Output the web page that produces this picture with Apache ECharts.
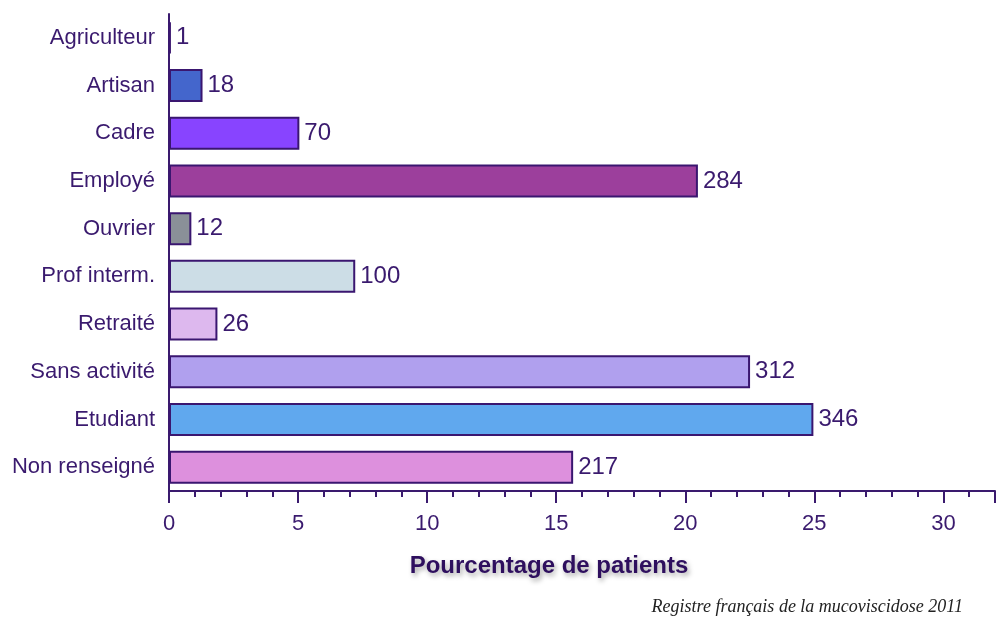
<!DOCTYPE html>
<html>
<head>
<meta charset="utf-8">
<script src="https://cdn.jsdelivr.net/npm/echarts@6/dist/echarts.min.js"></script>
<style>html,body{margin:0;padding:0;background:#fff;}#c{width:999px;height:619px;}</style>
</head>
<body>
<div id="c"></div>
<script>
const categories = ["Agriculteur","Artisan","Cadre","Employé","Ouvrier","Prof interm.","Retraité","Sans activité","Etudiant","Non renseigné"];
const counts = [1,18,70,284,12,100,26,312,346,217];
const barColors = ["#4a1a80","#4466cc","#8844ff","#9c3f9c","#8a9098","#ccdde6","#ddb8ee","#b0a0ee","#60a8ee","#dd90dd"];
const xTickLabels = [0,5,10,15,20,25,30];

const total = counts.reduce((a,b)=>a+b,0);
const percents = counts.map(c => c / total * 100);
const ink = "#3a1a6e";

const chart = echarts.init(document.getElementById('c'));
chart.setOption({
  animation: false,
  backgroundColor: '#fff',
  grid: {left: 169, right: 4, top: 14, bottom: 128, containLabel: false},
  xAxis: [{
    type: 'value', min: 0, max: 32, interval: 5,
    axisLine: {show: true, lineStyle: {color: ink, width: 2}},
    axisTick: {show: true, length: 12, lineStyle: {color: ink, width: 2}},
    splitLine: {show: false},
    axisLabel: {color: ink, fontFamily: 'Liberation Sans', fontSize: 22, margin: 22,
      formatter: v => xTickLabels.includes(v) ? String(v) : ''}
  },{
    type: 'value', min: 0, max: 32, interval: 1, position: 'bottom',
    axisLine: {show: false},
    axisTick: {show: true, length: 6, lineStyle: {color: ink, width: 2}},
    splitLine: {show: false},
    axisLabel: {show: false}
  }],
  yAxis: {
    type: 'category', data: categories, inverse: true,
    axisLine: {show: true, lineStyle: {color: ink, width: 2}},
    axisTick: {show: false},
    axisLabel: {color: ink, fontFamily: 'Liberation Sans', fontSize: 22, margin: 14}
  },
  series: [{
    type: 'bar', xAxisIndex: 0,
    data: percents.map((p,i) => ({value: p, itemStyle: {color: barColors[i]}})),
    barWidth: 33,
    itemStyle: {borderColor: '#3a1670', borderWidth: 2},
    label: {show: true, position: 'right', distance: 5, color: ink,
      fontFamily: 'Liberation Sans', fontSize: 24,
      formatter: p => String(counts[p.dataIndex])}
  }],
  graphic: [{
    type: 'text', x: 549, y: 566,
    style: {text: 'Pourcentage de patients', fill: '#2e0f5e',
      font: 'bold 24px "Liberation Sans"', textAlign: 'center', textVerticalAlign: 'middle',
      textShadowColor: 'rgba(0,0,0,0.35)', textShadowBlur: 5, textShadowOffsetX: 2, textShadowOffsetY: 3}
  },{
    type: 'text', x: 963, y: 607,
    style: {text: 'Registre français de la mucoviscidose 2011', fill: '#222',
      font: 'italic 18px "Liberation Serif"', textAlign: 'right', textVerticalAlign: 'middle'}
  }]
});
</script>
</body>
</html>
